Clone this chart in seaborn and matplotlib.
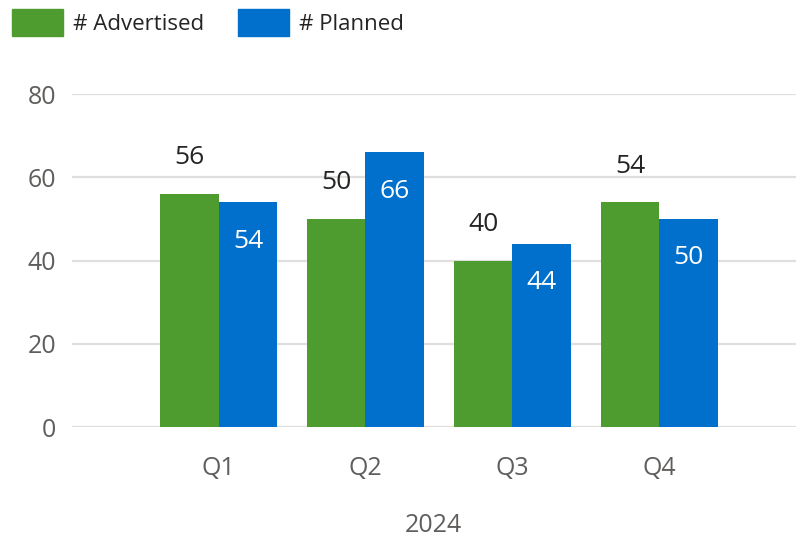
import pandas as pd
import matplotlib.pyplot as plt
import seaborn as sns

# Chart data
quarters = ["Q1", "Q2", "Q3", "Q4"]
advertised = [56, 50, 40, 54]
planned = [54, 66, 44, 50]
series_names = ["# Advertised", "# Planned"]
year_label = "2024"

df = pd.DataFrame({
    "Quarter": quarters * 2,
    "Count": advertised + planned,
    "Series": [series_names[0]] * 4 + [series_names[1]] * 4,
})

sns.set_style("white")
plt.rcParams["font.family"] = ["Open Sans", "DejaVu Sans"]

green = "#4E9B30"
blue = "#0070CC"
gray_text = "#605E5C"
dark_text = "#252423"

fig = plt.figure(figsize=(7.96, 5.38), dpi=100)
ax = fig.add_axes([0.09, 0.2063, 0.91, 0.6189])

sns.barplot(
    data=df,
    x="Quarter",
    y="Count",
    hue="Series",
    palette=[green, blue],
    width=0.8,
    saturation=1,
    linewidth=0,
    ax=ax,
    legend=False,
)

ax.set_ylim(0, 80)
ax.set_xlim(-1, 3.93)
ax.set_yticks([0, 20, 40, 60, 80])
ax.yaxis.grid(True, color="#E1DFDD", linewidth=1.6)
ax.set_axisbelow(True)
for s in ax.spines.values():
    s.set_visible(False)
ax.tick_params(axis="both", length=0, labelsize=18, labelcolor=gray_text)
ax.tick_params(axis="y", pad=11)
ax.tick_params(axis="x", pad=21)
ax.set_ylabel("")
ax.set_xlabel(year_label, fontsize=18, color=gray_text, labelpad=23)

# Value labels
ax.bar_label(ax.containers[0], padding=17, fontsize=19, color=dark_text)
ax.bar_label(ax.containers[1], padding=-37, fontsize=19, color="white")

# Legend
handles = [plt.Rectangle((0, 0), 1, 1, color=green),
           plt.Rectangle((0, 0), 1, 1, color=blue)]
fig.legend(
    handles,
    series_names,
    loc="upper left",
    bbox_to_anchor=(-0.004, 1.012),
    ncol=2,
    frameon=False,
    fontsize=16,
    handlelength=2.3,
    handleheight=1.5,
    handletextpad=0.45,
    columnspacing=1.5,
    borderaxespad=0.3,
    labelcolor=dark_text,
)

fig.savefig("out.png", dpi=100)
